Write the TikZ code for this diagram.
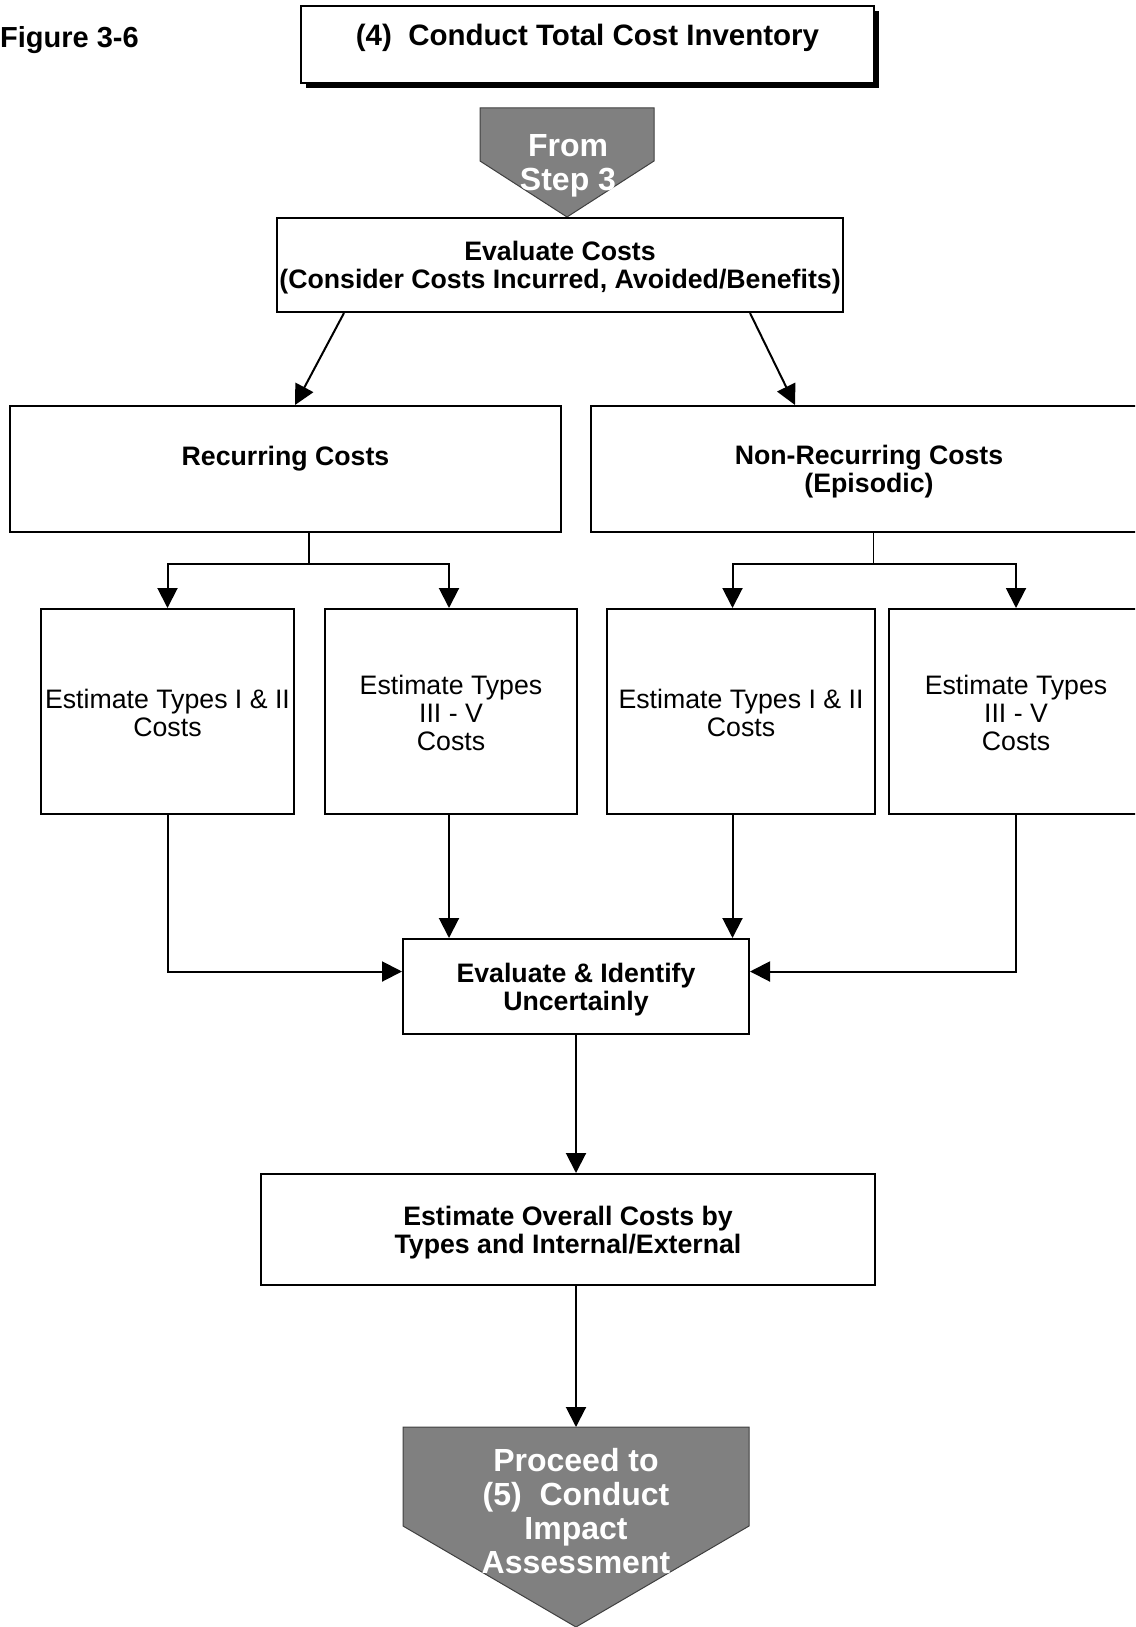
\documentclass[tikz,border=0pt]{standalone}
\usepackage{fontspec}
\setmainfont{Liberation Sans}
\usetikzlibrary{arrows.meta,positioning,shadows}
\definecolor{flaggray}{RGB}{128,128,128}

\begin{document}
\begin{tikzpicture}[x=1pt, y=-1pt,
  box/.style={draw, line width=2pt, fill=white, inner sep=0pt, align=center,
    font=\bfseries\fontsize{26.7}{28}\selectfont, text height=53.5pt},
  est/.style={box, font=\fontsize{26.7}{28}\selectfont, minimum height=205pt, text height=49.5pt},
  estthree/.style={est, text height=77.5pt},
  flag/.style={fill=flaggray, draw=black!75, line width=1pt},
  flagtxt/.style={text=white, align=center, inner sep=0pt,
    font=\bfseries\fontsize{32}{34}\selectfont},
  arr/.style={-{Triangle[length=20pt,width=20pt]}, line width=2pt},
  stem/.style={line width=1.5pt}]
  \useasboundingbox (0,0) rectangle (1135,1627);
  \clip (0,0) rectangle (1135,1627);
  % heading
  \node[anchor=west, inner sep=0pt, font=\bfseries\fontsize{29}{32}\selectfont] (figlabel) at (0,40) {Figure 3-6};
  \node[box, minimum width=573pt, text height=40pt, text depth=37pt,
    font=\bfseries\fontsize{29.5}{32}\selectfont,
    drop shadow={shadow xshift=5pt, shadow yshift=-5pt, fill=black, opacity=1}] (title) at (587.5,44.5)
    {(4)\ \ Conduct Total Cost Inventory};
  % entry flag
  \draw[flag] (480,108) -- (654,108) -- (654,161) -- (567,217) -- (480,161) -- cycle;
  \node[flagtxt] (from) at (568,165.5) {From\\Step 3};
  % evaluation and the two cost groups
  \node[box, minimum width=566pt, minimum height=94pt] (eval) at (560,265)
    {Evaluate Costs\\(Consider Costs Incurred, Avoided/Benefits)};
  \node[box, minimum width=551pt, minimum height=126pt, text height=49.5pt] (rec) at (285.5,469)
    {Recurring Costs\\ \mbox{}};
  \node[box, minimum width=556pt, minimum height=126pt] (nonrec) at (869,469) {Non-Recurring Costs\\(Episodic)};
  \draw[arr] ([xshift=68pt]eval.south west) -- ([xshift=286pt]rec.north west);
  \draw[arr] ([xshift=-94pt]eval.south east) -- ([xshift=205pt]nonrec.north west);
  % estimates
  \node[est, minimum width=253pt] (e1) at (167.5,711.5) {Estimate Types I \& II\\Costs};
  \node[estthree, minimum width=252pt] (e2) at (451,711.5) {Estimate Types\\III - V\\Costs};
  \node[est, minimum width=268pt] (e3) at (741,711.5) {Estimate Types I \& II\\Costs};
  \node[estthree, minimum width=254pt] (e4) at (1016,711.5) {Estimate Types\\III - V\\Costs};
  \draw[stem] ([xshift=23.5pt]rec.south) -- ++(0,31) coordinate (rb);
  \draw[stem] ([xshift=4.6pt]nonrec.south) -- ++(0,31) coordinate (nb);
  \draw[arr] (rb) -| (e1);
  \draw[arr] (rb) -| ([xshift=-2pt]e2.north);
  \draw[arr] (nb) -| ([xshift=-8.5pt]e3.north);
  \draw[arr] (nb) -| (e4);
  % uncertainty, totals, exit flag
  \node[box, minimum width=346pt, minimum height=95pt] (ei) at (576,986.5) {Evaluate \& Identify\\Uncertainly};
  \node[box, minimum width=614pt, minimum height=111pt] (ov) at (568,1229.5)
    {Estimate Overall Costs by\\Types and Internal/External};
  \draw[arr] (e1) |- ([yshift=15pt]ei.west);
  \draw[arr] ([xshift=-2pt]e2.south) -- ([xshift=-2pt]e2.south |- ei.north);
  \draw[arr] ([xshift=-8.5pt]e3.south) -- ([xshift=-8.5pt]e3.south |- ei.north);
  \draw[arr] (e4) |- ([yshift=15pt]ei.east);
  \draw[arr] (ei) -- (ei.south |- ov.north);
  \draw[flag] (403,1427) -- (749,1427) -- (749,1526) -- (576,1627) -- (403,1526) -- cycle;
  \coordinate (nexttop) at (576,1427);
  \node[flagtxt] (next) at (576,1511.5) {Proceed to\\(5)\ \ Conduct\\Impact\\Assessment};
  \draw[arr] (ei.south |- ov.south) -- (nexttop);
\end{tikzpicture}
\end{document}
